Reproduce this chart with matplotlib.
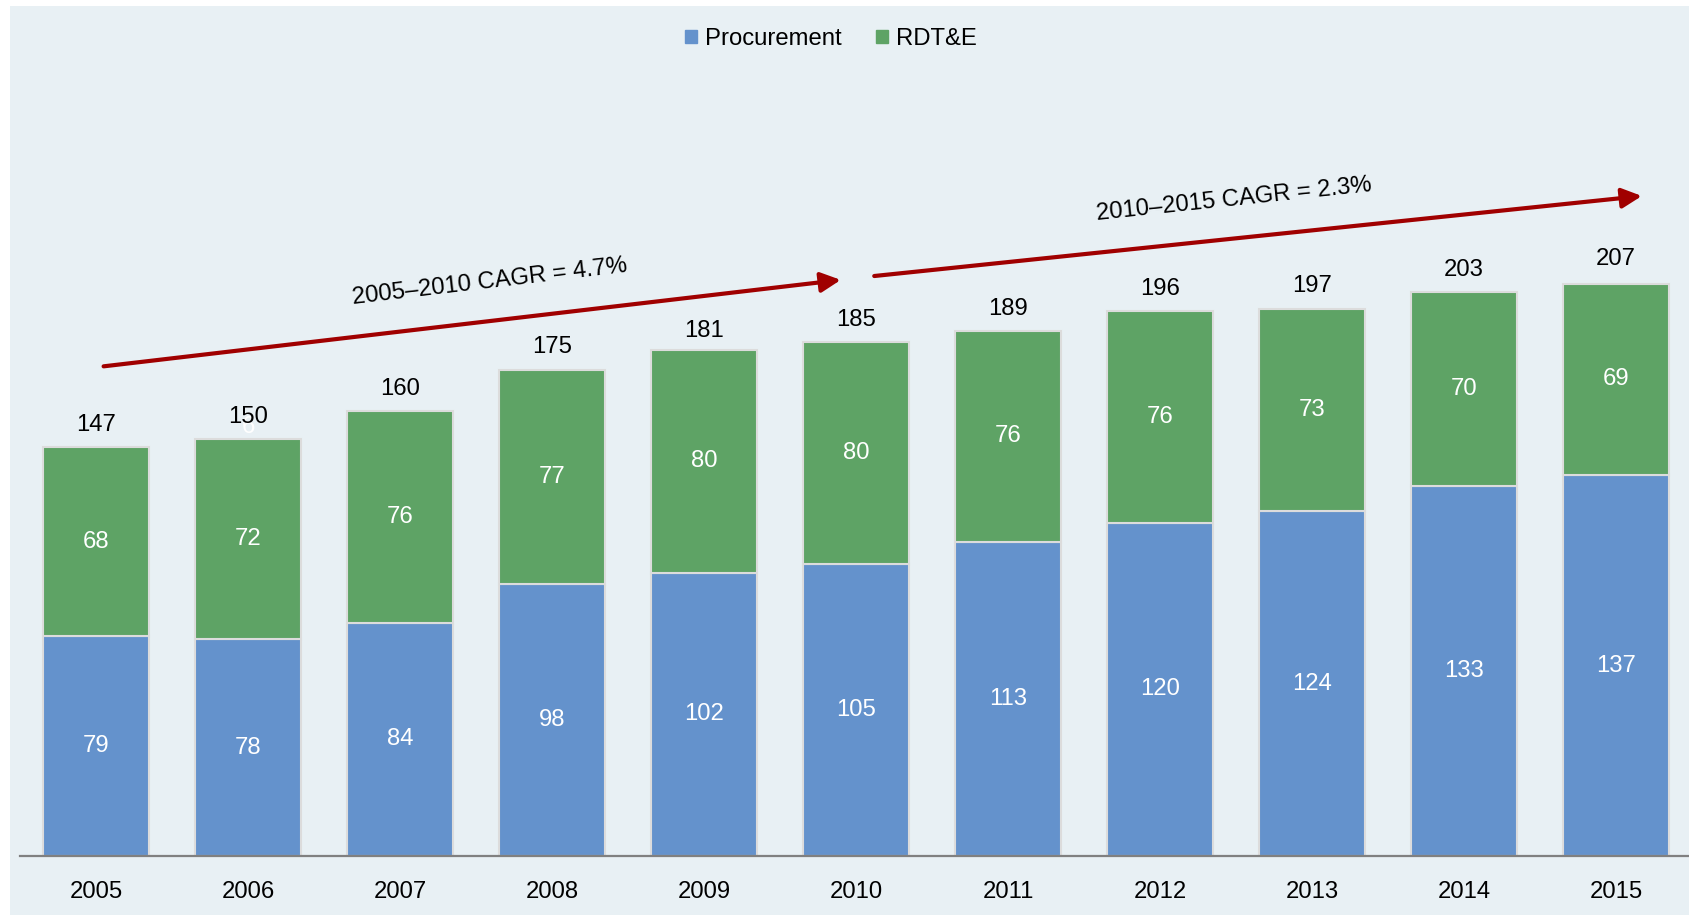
import numpy as np
import matplotlib.pyplot as plt
from matplotlib.patches import Rectangle

plt.rcParams['font.family'] = ['Liberation Sans', 'DejaVu Sans']

years = ['2005', '2006', '2007', '2008', '2009', '2010',
         '2011', '2012', '2013', '2014', '2015']
procurement = [79, 78, 84, 98, 102, 105, 113, 120, 124, 133, 137]
rdte = [68, 72, 76, 77, 80, 80, 76, 76, 73, 70, 69]
totals = [147, 150, 160, 175, 181, 185, 189, 196, 197, 203, 207]
cagr_labels = ['2005\u20132010 CAGR = 4.7%', '2010\u20132015 CAGR = 2.3%']

blue = '#6492CC'
green = '#5EA365'
red = '#A00000'
bg = '#E8F0F4'

W, H = 1690, 915
fig = plt.figure(figsize=(W / 100, H / 100), dpi=100)
fig.patch.set_facecolor('white')

# light panel behind the chart
bg_ax = fig.add_axes([10 / W, 0, 1 - 10 / W, 1 - 6 / H], zorder=-5)
bg_ax.set_axis_off()
bg_ax.add_patch(Rectangle((0, 0), 1, 1, transform=bg_ax.transAxes, color=bg))

ax = fig.add_axes([20 / W, (H - 856) / H, (W - 20) / W, 856 / H])
ax.set_facecolor('none')

x = np.arange(len(years))
fs = 17.2
ax.bar(x, procurement, width=0.7, color=blue, edgecolor='#DCDCDC', linewidth=1.5)
ax.bar(x, rdte, width=0.7, bottom=procurement, color=green,
       edgecolor='#DCDCDC', linewidth=1.5)

for i in range(len(years)):
    ax.text(x[i], procurement[i] / 2, str(procurement[i]), ha='center',
            va='center', color='white', fontsize=fs)
    ax.text(x[i], procurement[i] + rdte[i] / 2, str(rdte[i]), ha='center',
            va='center', color='white', fontsize=fs)
    ax.annotate(str(totals[i]), (x[i], totals[i]), xytext=(0, 16),
                textcoords='offset points', ha='center', va='center',
                fontsize=fs, color='black', zorder=4)

# stray white label peeking out under the 2006 total
ax.annotate('6', (x[1], totals[1]), xytext=(0, 8.5), textcoords='offset points',
            ha='center', va='center', fontsize=fs, color='white', zorder=3)

ax.set_xlim(-0.5, (W - 96) / 152)
ax.set_ylim(0, 856 / 2.779)

# CAGR arrows
arrows = [((0.05, 176.2), (4.90, 207.3)), ((5.12, 208.7), (10.17, 237.5))]
for (x0, y0), (x1, y1) in arrows:
    ax.annotate('', xy=(x1, y1), xytext=(x0, y0),
                arrowprops=dict(arrowstyle='-|>,head_length=0.6,head_width=0.3',
                                color=red, lw=3, mutation_scale=20,
                                shrinkA=0, shrinkB=0))
ax.text(2.59, 206.6, cagr_labels[0], rotation=6.7, rotation_mode='anchor',
        ha='center', va='center', fontsize=fs)
ax.text(7.49, 236.1, cagr_labels[1], rotation=6.0, rotation_mode='anchor',
        ha='center', va='center', fontsize=fs)

for s in ['top', 'right', 'left']:
    ax.spines[s].set_visible(False)
ax.spines['bottom'].set_color('#808080')
ax.spines['bottom'].set_linewidth(1.6)
ax.set_yticks([])
ax.set_xticks(x)
ax.set_xticklabels(years, fontsize=fs)
ax.tick_params(axis='x', length=0, pad=18)

handles = [Rectangle((0, 0), 1, 1, color=blue), Rectangle((0, 0), 1, 1, color=green)]
fig.legend(handles, ['Procurement', 'RDT&E'], loc='center',
           bbox_to_anchor=(831 / W, 1 - 39 / H), ncol=2, frameon=False,
           fontsize=fs, handlelength=0.5, handleheight=0.5,
           handletextpad=0.35, columnspacing=1.45)

fig.savefig('out.png', dpi=100)
